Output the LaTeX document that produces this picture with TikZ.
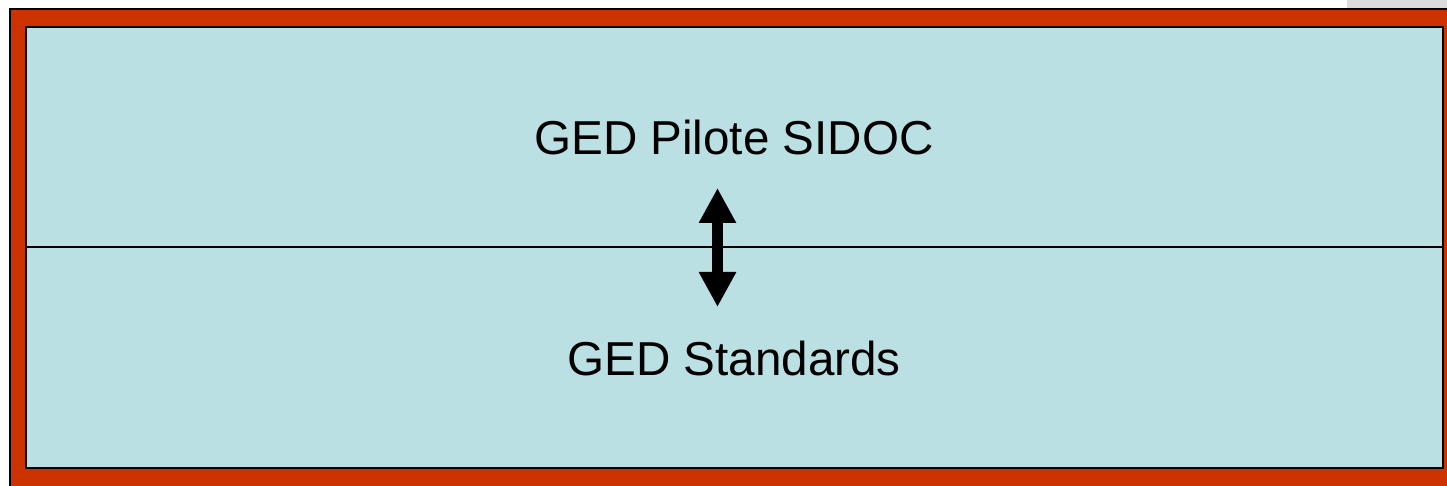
\documentclass[tikz,border=0pt]{standalone}
\usepackage{fontspec}
\setmainfont{Liberation Sans}
\usetikzlibrary{arrows.meta}
\definecolor{frame}{RGB}{204,51,0}
\definecolor{panel}{RGB}{187,224,227}
\definecolor{backdrop}{RGB}{220,220,220}
\tikzset{
  lbl/.style={anchor=base, inner sep=0pt, font=\fontsize{23.8}{28}\selectfont},
  border/.style={draw=black, line width=1.1pt},
  link/.style={line width=5.75pt,
    {Triangle[length=17.5pt,width=17.5pt]}-{Triangle[length=17.5pt,width=17.5pt]}}
}
\begin{document}
\begin{tikzpicture}[x=0.5pt,y=-0.5pt]
  \useasboundingbox (0,0) rectangle (1447,486);
  \clip (0,0) rectangle (1447,486);
  \fill[white] (0,0) rectangle (1447,486);
  % pale backdrop strip in the upper right corner
  \fill[backdrop] (1347,0) rectangle (1447,12);
  % red outer frame
  \filldraw[fill=frame, border] (10,9) rectangle (1470,510);
  % light blue panel split in two
  \filldraw[fill=panel, border, line width=1.3pt] (26,27) rectangle (1443,468);
  \draw[border] (26,247) -- (1443,247);
  % labels
  \node[lbl] (pilote) at (734,155) {GED Pilote SIDOC};
  \node[lbl] (standards) at (734,376) {GED Standards};
  % two-way link between the two layers
  \coordinate (up) at (717.5,188);
  \coordinate (down) at (717.5,307);
  \draw[link] (up) -- (down);
\end{tikzpicture}
\end{document}
